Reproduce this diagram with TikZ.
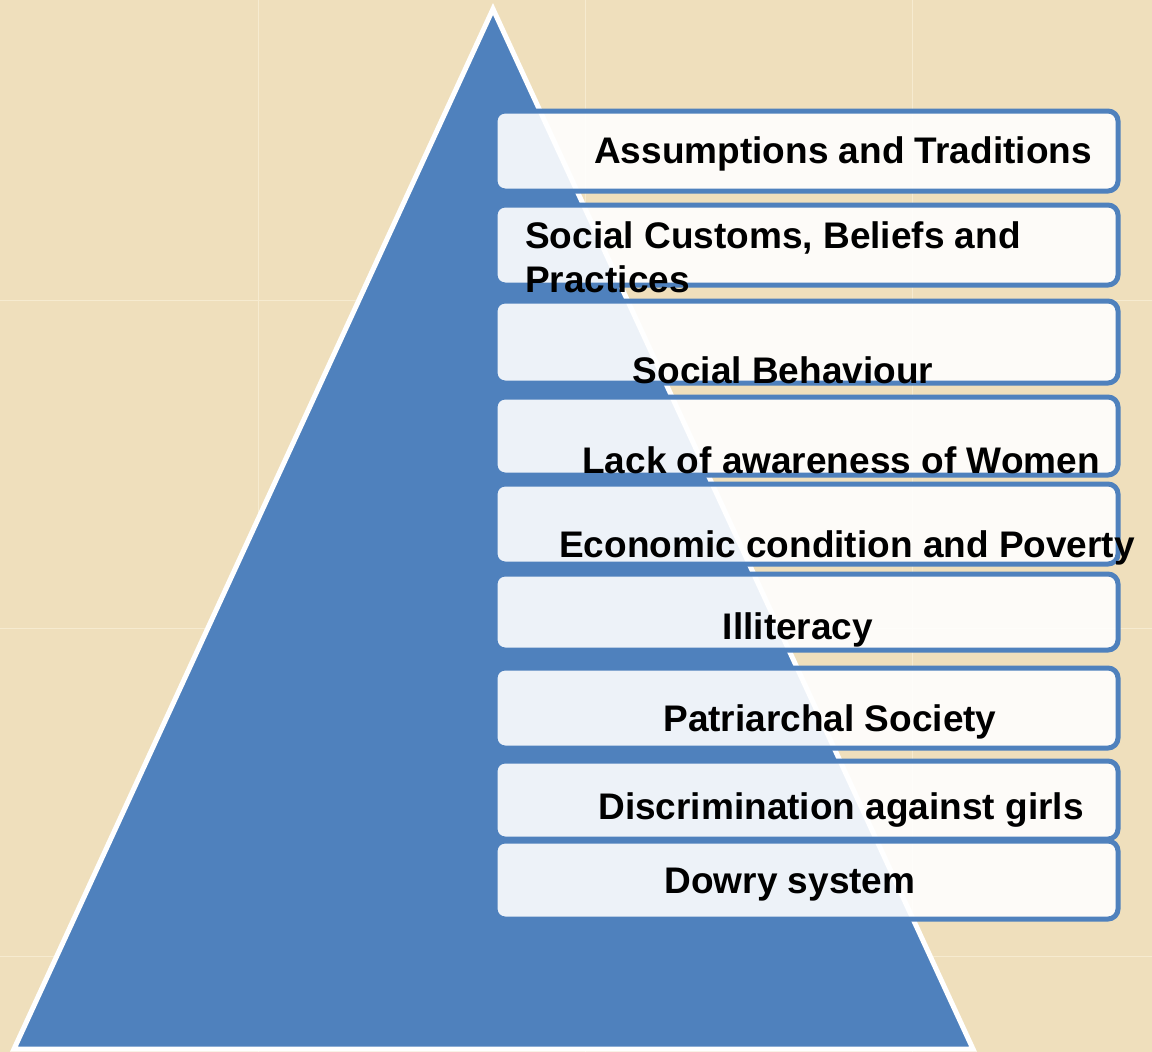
\documentclass[tikz,border=0pt]{standalone}
\usepackage{fontspec}
\setmainfont{Liberation Sans}
\usepackage{tikz}
\usetikzlibrary{positioning}
\definecolor{cPaper}{RGB}{239,223,188}
\definecolor{cSeam}{RGB}{246,235,208}
\definecolor{cPyramid}{RGB}{79,129,189}
\tikzset{
	pyramid/.style={fill=cPyramid, draw=white, line width=5pt},
	layer/.style  ={rectangle, rounded corners=10pt, draw=cPyramid, line width=5pt, fill=white, fill opacity=0.9, inner sep=0pt, outer sep=0pt, minimum width=623pt, anchor=north west},
	caption/.style={font=\bfseries\fontsize{37}{44}\selectfont, text=black, inner sep=0pt, anchor=base},
	seam/.style   ={cSeam, line width=1pt},
}
\begin{document}
\begin{tikzpicture}[x=1pt, y=-1pt]
	\useasboundingbox (0,0) rectangle (1152,1052);
	% paper background with its tile seams
	\fill[cPaper] (0,0) rectangle (1152,1052);
	\foreach \x in {258,585,912} \draw[seam] (\x,0) -- (\x,1052);
	\foreach \y in {300,628,956} \draw[seam] (0,\y) -- (1152,\y);
	% the pyramid
	\draw[pyramid] (493,9) -- (14,1049) -- (973,1049) -- cycle;
	% layers: number / top / bottom
	\foreach \n/\t/\b in {
		1/111/191,
		2/205/285,
		3/301/383,
		4/397/475,
		5/484/564,
		6/574/650,
		7/668/748,
		8/761/839,
		9/841/919} {
		\pgfmathsetmacro{\hh}{\b-\t}
		\node[layer, minimum height=\hh pt] (box\n) at (495,\t) {};
	}
	% captions: number / x / baseline / text
	\foreach \n/\x/\y/\l in {
		1/843/163/{Assumptions and Traditions},
		3/783/383/{Social Behaviour},
		4/841/473/{Lack of awareness of Women},
		5/847/557/{Economic condition and Poverty},
		6/798/639/{Illiteracy},
		7/830/731/{Patriarchal Society},
		8/841/819/{Discrimination against girls},
		9/790/893/{Dowry system}} {
		\node[caption] (lbl\n) at (\x,\y) {\l};
	}
	\node[caption, anchor=base west, align=left] (lbl2) at (525,292) {Social Customs, Beliefs and\\Practices};
\end{tikzpicture}
\end{document}
